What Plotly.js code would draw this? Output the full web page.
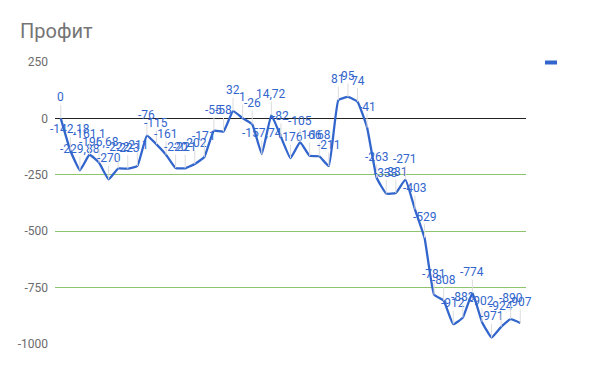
<!DOCTYPE html>
<html>
<head>
<meta charset="utf-8">
<script src="https://cdn.plot.ly/plotly-3.0.1.min.js"></script>
<style>
  html, body { margin: 0; padding: 0; background: #fff; }
  #chart { width: 600px; height: 371px; }
</style>
</head>
<body>
<div id="chart"></div>
<script>
// ---- data ----
const chartTitle = "Профит";
const seriesName = "Профит";
const profit = [
  0, -142.18, -229.88, -161.1, -196.68, -270, -222, -223, -211, -76,
  -115, -161, -220, -221, -202, -171, -55, -58, 32, 1,
  -26, -157.74, 14.72, -82, -176, -105, -166, -168, -211, 81,
  95, 74, -41, -263, -333, -331, -271, -403, -529, -781,
  -808, -912, -883, -774, -902, -971, -924, -890, -907
];
const yTickValues = [250, 0, -250, -500, -750, -1000];
const yTickLabels = ["250", "0", "-250", "-500", "-750", "-1000"];

// ---- derived ----
const idx = profit.map((_, i) => i);
const labelText = profit.map(v => String(v).replace('.', ','));

const BLUE = '#3366cc';

const annotations = profit.map((v, i) => ({
  x: idx[i], y: v, xref: 'x', yref: 'y',
  text: labelText[i],
  showarrow: true, arrowhead: 0, arrowwidth: 1, arrowcolor: '#dcdcdc',
  ax: 0, ay: -21, standoff: 0, startstandoff: 0,
  borderpad: 0,
  font: { family: 'Roboto, Arial, sans-serif', size: 12, color: BLUE }
}));

const trace = {
  x: idx, y: profit, name: seriesName,
  type: 'scatter', mode: 'lines',
  line: { color: BLUE, width: 2.3, shape: 'spline', smoothing: 0.35 },
  hoverinfo: 'skip', showlegend: false
};

const layout = {
  width: 600, height: 371,
  margin: { l: 55, r: 74, t: 62, b: 27, pad: 0 },
  paper_bgcolor: '#fff', plot_bgcolor: '#fff',
  font: { family: 'Roboto, Arial, sans-serif', size: 12, color: '#666' },
  title: {
    text: chartTitle,
    x: 20 / 600, xref: 'container', xanchor: 'left',
    y: 1 - 31 / 371, yref: 'container', yanchor: 'middle',
    font: { family: 'Roboto, Arial, sans-serif', size: 20, color: '#757575' }
  },
  xaxis: {
    range: [-0.6, 48.6], showgrid: false, zeroline: false,
    showticklabels: false, ticks: '', showline: false, fixedrange: true
  },
  yaxis: {
    range: [-1000, 250], tickmode: 'array',
    tickvals: yTickValues, ticktext: yTickLabels,
    showgrid: true, gridcolor: '#8fc46f', gridwidth: 1,
    zeroline: true, zerolinecolor: '#222', zerolinewidth: 1,
    showline: false, ticks: '', ticklabelstandoff: 6,
    tickfont: { family: 'Roboto, Arial, sans-serif', size: 12, color: '#6b6b6b' },
    fixedrange: true
  },
  shapes: [{
    type: 'rect', xref: 'paper', yref: 'paper',
    x0: (545 - 55) / 471, x1: (557 - 55) / 471,
    y0: (344 - 64.5) / 282, y1: (344 - 60.5) / 282,
    fillcolor: BLUE, line: { width: 0 }
  }],
  annotations: annotations,
  showlegend: false
};

Plotly.newPlot('chart', [trace], layout, { displayModeBar: false, staticPlot: true });
</script>
</body>
</html>
